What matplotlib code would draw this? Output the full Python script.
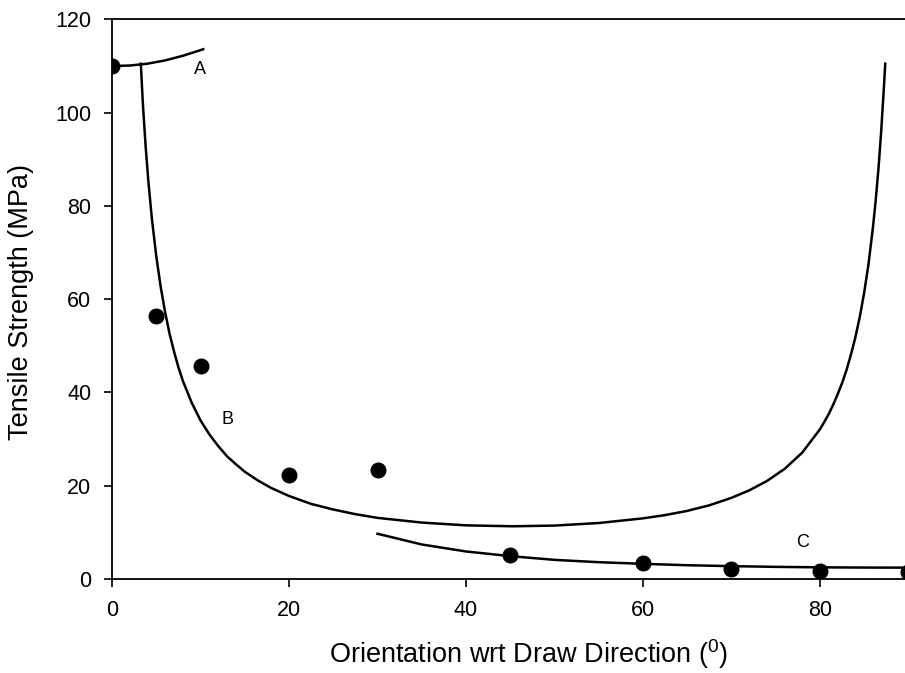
import matplotlib
matplotlib.use("Agg")
import matplotlib.pyplot as plt

plt.rcParams['font.family'] = ['Liberation Sans', 'DejaVu Sans']
plt.rcParams['mathtext.fontset'] = 'custom'
plt.rcParams['mathtext.rm'] = 'Liberation Sans'
plt.rcParams['mathtext.it'] = 'Liberation Sans'

# measured tensile strength vs angle
angle_pts = [0, 5, 10, 20, 30, 45, 60, 70, 80, 90]
strength_pts = [110.0, 56.3, 45.6, 22.2, 23.4, 5.1, 3.4, 2.1, 1.8, 1.4]

# curve A (longitudinal failure)
curve_a_x = [0, 2, 4, 6, 8, 10, 10.3]
curve_a_y = [110.0, 110.1, 110.5, 111.2, 112.2, 113.4, 113.6]

# curve B (shear failure)
curve_b_x = [3.25, 3.5, 3.8, 4.1, 4.5, 5.0, 5.5, 6.0, 6.5, 7.0, 7.5, 8.0, 9.0,
             10, 11, 12, 13, 14, 15, 16.5, 18, 20, 22.5, 25, 27.5, 30, 35, 40,
             45.3, 50, 55, 60, 62.5, 65, 67.5, 70, 72, 74, 76, 78, 80, 80.5,
             81, 81.5, 82, 82.5, 83, 83.5, 84, 84.5, 85, 85.5, 86, 86.3, 86.6,
             86.9, 87.2, 87.38]
curve_b_y = [110.5, 101.4, 92.7, 85.4, 77.3, 69.2, 62.6, 57.2, 52.6, 48.8,
             45.4, 42.5, 37.8, 34.0, 31.0, 28.5, 26.3, 24.6, 23.0, 21.1, 19.5,
             17.8, 16.1, 14.9, 13.9, 13.1, 12.1, 11.5, 11.3, 11.45, 12.0, 13.0,
             13.7, 14.6, 15.8, 17.4, 19.0, 21.0, 23.6, 27.1, 32.1, 33.7, 35.4,
             37.4, 39.6, 42.0, 44.8, 48.1, 51.8, 56.2, 61.4, 67.7, 75.6, 81.2,
             87.7, 95.4, 104.6, 110.5]

# curve C (transverse failure)
curve_c_x = [30, 35, 40, 45, 50, 55, 60, 65, 70, 75, 80, 85, 90]
curve_c_y = [9.7, 7.4, 5.9, 4.9, 4.1, 3.6, 3.25, 2.95, 2.75, 2.6, 2.5, 2.45, 2.43]

fig = plt.figure(figsize=(9.05, 6.73), dpi=100)
ax = fig.add_axes([0.1238, 0.1397, 0.880, 0.8315])

ax.plot(curve_a_x, curve_a_y, color='black', lw=1.8)
ax.plot(curve_b_x, curve_b_y, color='black', lw=1.8)
ax.plot(curve_c_x, curve_c_y, color='black', lw=1.8)
ax.plot(angle_pts, strength_pts, 'o', color='black', markersize=10.5)

ax.text(9.9, 109.2, 'A', fontsize=13, ha='center', va='center')
ax.text(13.1, 34.2, 'B', fontsize=13, ha='center', va='center')
ax.text(78.0, 7.8, 'C', fontsize=13, ha='center', va='center')

ax.set_xlim(0, 90)
ax.set_ylim(0, 120)
ax.set_xticks([0, 20, 40, 60, 80])
ax.set_yticks([0, 20, 40, 60, 80, 100, 120])

ax.set_xlabel(r'Orientation wrt Draw Direction ($^0$)', fontsize=19.5)
ax.set_ylabel('Tensile Strength (MPa)', fontsize=19.5)
ax.xaxis.set_label_coords(0.5235, -0.104)
ax.yaxis.set_label_coords(-0.098, 0.495)

ax.tick_params(axis='both', direction='out', length=6, width=1.2,
               labelsize=15.5, pad=9)
for side in ['left', 'bottom', 'top', 'right']:
    ax.spines[side].set_linewidth(1.3)

fig.savefig('out.png', dpi=100)
